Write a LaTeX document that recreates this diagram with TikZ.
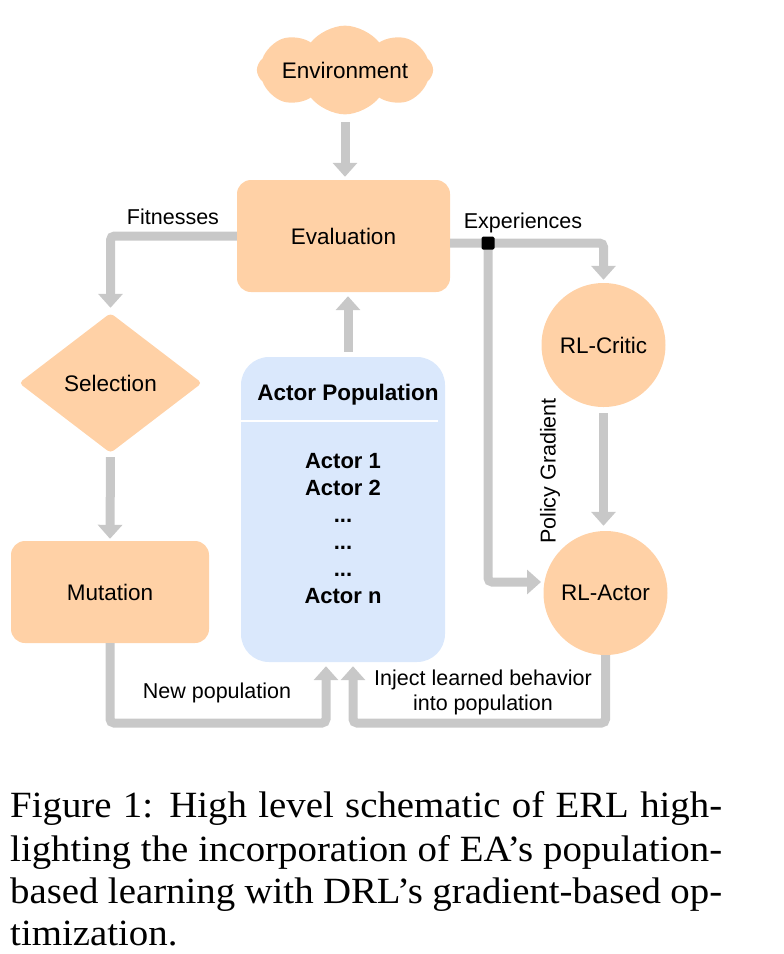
\documentclass[tikz,border=0pt]{standalone}
\usepackage{fontspec}
\setmainfont{Liberation Sans}
\newfontfamily\capfont[FakeStretch=1.05]{Liberation Serif}
\usetikzlibrary{arrows.meta,shapes.geometric,shapes.symbols}
\definecolor{peach}{HTML}{FFD1A6}
\definecolor{popblue}{HTML}{DAE8FC}
\definecolor{arrgray}{HTML}{C8C8C8}
\begin{document}
\begin{tikzpicture}[x=1pt,y=-1pt, font=\fontsize{22.5}{26}\selectfont,
  arr/.style={draw=arrgray, line width=9pt, rounded corners=4pt, -{Triangle[width=24pt,length=14pt]}},
  box/.style={fill=peach, rounded corners=14pt, inner sep=0},
  lbl/.style={inner sep=0, text=black},
  capline/.style={anchor=base west, inner sep=0, font=\capfont\fontsize{37}{43}\selectfont}]
\useasboundingbox (0,0) rectangle (784,954);
% nodes
\node[cloud, cloud puffs=8, cloud puff arc=105, aspect=3, fill=peach, minimum width=176pt, minimum height=58pt, inner sep=0] (env) at (345,70) {Environment};
\node[box, minimum width=213pt, minimum height=112pt] (eval) at (343.5,236) {Evaluation};
\node[diamond, fill=peach, rounded corners=4pt, minimum width=183pt, minimum height=140pt, inner sep=0, shape aspect=1.3] (sel) at (110.5,383) {Selection};
\node[box, minimum width=198pt, minimum height=102pt] (mut) at (110,592) {Mutation};
\node[fill=popblue, rounded corners=28pt, minimum width=204pt, minimum height=305pt, inner sep=0] (pop) at (343,509.5) {};
\node[lbl, font=\fontsize{22.5}{26}\selectfont\bfseries] (pophead) at (348,395) {Actor Population};
\coordinate (sepl) at (241,421);
\coordinate (sepr) at (438,421);
\draw[white, line width=1.5pt] (sepl) -- (sepr);
\node[lbl, align=center, font=\fontsize{22}{27}\selectfont\bfseries] (actors) at (343,528.5) {Actor 1\\Actor 2\\...\\...\\...\\Actor n};
\node[circle, fill=peach, minimum size=124pt, inner sep=0] (critic) at (603.5,345) {RL-Critic};
\node[circle, fill=peach, minimum size=124pt, inner sep=0] (actor) at (605.5,593) {RL-Actor};
\coordinate (sqc) at (488,243);
\coordinate (bot) at (0,723);
\coordinate (pin) at (541,582);
\coordinate (envb) at (345,105);
% connectors
\draw[arr, shorten <=17pt, shorten >=3pt] (envb) -- (envb |- eval.north);
\draw[arr, shorten >=5pt] (eval.west) -| (sel.north);
\draw[arr, shorten <=4pt, shorten >=2pt] (sel.south) -- (mut.north);
\draw[arr, shorten >=4pt] (mut.south) -- (mut.south |- bot) -| ([xshift=-17pt]pop.south);
\draw[arr, shorten >=4pt] (actor.south) -- (actor.south |- bot) -| ([xshift=10pt]pop.south);
\draw[arr, shorten >=3pt] (eval.east |- sqc) -- (sqc) -| (critic.north);
\draw[arr] (sqc) |- (pin);
\draw[arr, shorten <=6pt, shorten >=5pt] (critic.south) -- (critic.south |- actor.north);
\draw[arr, shorten <=5pt, shorten >=4pt] ([xshift=5pt]pop.north) -- ([xshift=5pt]pop.north |- eval.south);
\node[fill=black, minimum size=13pt, inner sep=0, rounded corners=1.5pt] (sq) at (sqc) {};
% labels
\node[lbl, font=\fontsize{21.5}{25}\selectfont] (fit) at (173,217) {Fitnesses};
\node[lbl, font=\fontsize{21.5}{25}\selectfont] (exp) at (523,223) {Experiences};
\node[lbl, rotate=90, font=\fontsize{21.5}{25}\selectfont] (pg) at (550,471) {Policy Gradient};
\node[lbl, font=\fontsize{21.5}{25}\selectfont] (newpop) at (217,693) {New population};
\node[lbl, align=center, font=\fontsize{21.5}{25}\selectfont] (inject) at (483,692) {Inject learned behavior\\into population};
% caption
\node[capline] (cap1) at (10,817) {\makebox[712pt][s]{Figure 1: High level schematic of ERL high-}};
\node[capline] (cap2) at (10,861) {\makebox[712pt][s]{lighting the incorporation of EA’s population-}};
\node[capline] (cap3) at (10,903) {\makebox[712pt][s]{based learning with DRL’s gradient-based op-}};
\node[capline] (cap4) at (10,945) {timization.};
\end{tikzpicture}
\end{document}
